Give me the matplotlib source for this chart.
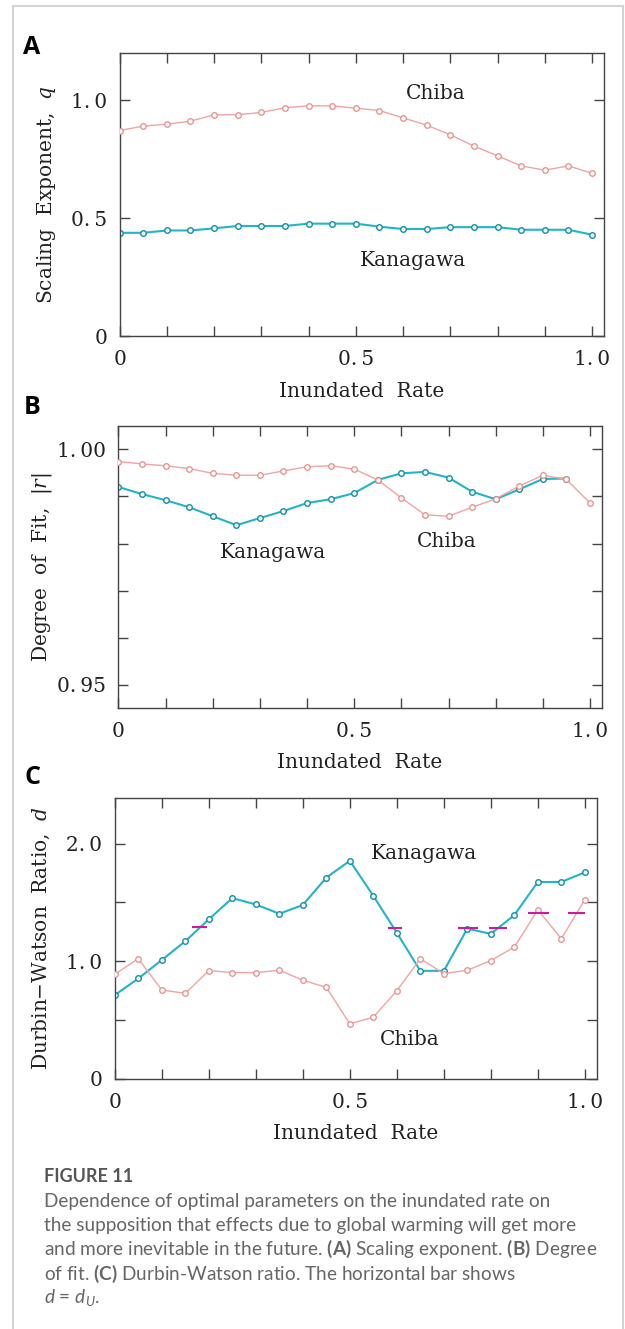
import matplotlib
matplotlib.use('Agg')
import matplotlib.pyplot as plt
from matplotlib.lines import Line2D

plt.rcParams['font.family'] = ['DejaVu Serif']
plt.rcParams['mathtext.fontset'] = 'custom'
plt.rcParams['mathtext.rm'] = 'DejaVu Serif'
plt.rcParams['mathtext.it'] = 'DejaVu Serif:italic'
plt.rcParams['mathtext.bf'] = 'Lato:bold'
plt.rcParams['mathtext.sf'] = 'Lato:italic'

# inundated rate (x for every panel)
rate = [0.0, 0.05, 0.10, 0.15, 0.20, 0.25, 0.30, 0.35, 0.40, 0.45, 0.50,
        0.55, 0.60, 0.65, 0.70, 0.75, 0.80, 0.85, 0.90, 0.95, 1.00]

# (A) scaling exponent q
q_chiba = [0.872, 0.891, 0.899, 0.912, 0.939, 0.939, 0.949, 0.969, 0.977, 0.977, 0.967,
           0.957, 0.926, 0.895, 0.854, 0.806, 0.765, 0.722, 0.704, 0.722, 0.691]
q_kanagawa = [0.438, 0.438, 0.448, 0.448, 0.457, 0.467, 0.467, 0.467, 0.477, 0.477, 0.477,
              0.464, 0.454, 0.454, 0.462, 0.462, 0.462, 0.451, 0.451, 0.451, 0.430]

# (B) degree of fit |r|
r_chiba = [0.9974, 0.9969, 0.9965, 0.9959, 0.9949, 0.9945, 0.9945, 0.9954, 0.9963, 0.9965, 0.9958,
           0.9935, 0.9897, 0.9861, 0.9858, 0.9877, 0.9895, 0.9922, 0.9945, 0.9936, 0.9886]
r_kanagawa = [0.9920, 0.9905, 0.9892, 0.9877, 0.9858, 0.9839, 0.9854, 0.9869, 0.9886, 0.9894,
              0.9907, 0.9935, 0.9949, 0.9952, 0.9940, 0.9910, 0.9894, 0.9915, 0.9937, 0.9938]

# (C) Durbin-Watson ratio d
d_chiba = [0.890, 1.022, 0.756, 0.728, 0.921, 0.904, 0.904, 0.924, 0.840, 0.778, 0.469,
           0.525, 0.750, 1.022, 0.896, 0.924, 1.006, 1.121, 1.438, 1.191, 1.525]
d_kanagawa = [0.713, 0.854, 1.011, 1.171, 1.357, 1.537, 1.483, 1.404, 1.478, 1.711, 1.854,
              1.556, 1.242, 0.919, 0.919, 1.278, 1.233, 1.393, 1.674, 1.674, 1.756]

# horizontal bars d = dU
du_start = [0.165, 0.582, 0.730, 0.797, 0.880, 0.965]
du_end = [0.197, 0.612, 0.773, 0.834, 0.924, 1.000]
du_value = [1.289, 1.281, 1.281, 1.281, 1.413, 1.413]

x_ticks = [0.0, 0.1, 0.2, 0.3, 0.4, 0.5, 0.6, 0.7, 0.8, 0.9, 1.0]
x_labels = ['0', '', '', '', '', '0.\u20095', '', '', '', '', '1.\u20090']

W, H = 625, 1329
fig = plt.figure(figsize=(W / 100, H / 100), dpi=100)

CHIBA = '#f2a3a3'
CHIBA_EDGE = '#e98a8a'
KANA = '#22b4c8'
KANA_EDGE = '#0f8fa8'
AXC = '#444444'
FS = 14.5


def make_axes(left, top, right, bottom):
    return fig.add_axes([left / W, 1 - bottom / H, (right - left) / W, (bottom - top) / H])


def style(ax, yticks, ylabels, ylim, ylabel, label_x):
    ax.set_xlim(0, 1.025)
    ax.set_ylim(*ylim)
    ax.set_xticks(x_ticks)
    ax.set_xticklabels(x_labels)
    ax.set_yticks(yticks)
    ax.set_yticklabels(ylabels)
    ax.tick_params(direction='in', length=7, width=1, color=AXC, top=True, right=True,
                   labelsize=FS, labelcolor='#222222')
    ax.tick_params(axis='x', pad=10)
    ax.tick_params(axis='y', pad=9)
    for s in ax.spines.values():
        s.set_color(AXC)
        s.set_linewidth(1)
    ax.set_xlabel('Inundated  Rate', fontsize=FS, color='#222222')
    ax.xaxis.set_label_coords(0.5, -0.195)
    ax.xaxis.label.set_va('center')
    ax.set_ylabel(ylabel, fontsize=FS, color='#222222')
    ax.yaxis.set_label_coords(label_x, 0.5)
    ax.yaxis.label.set_va('center')


def draw(ax, y_chiba, y_kana):
    ax.plot(rate[:len(y_chiba)], y_chiba, color=CHIBA, lw=1.0, marker='o', ms=4,
            mfc='white', mec=CHIBA_EDGE, mew=0.9, zorder=3)
    ax.plot(rate[:len(y_kana)], y_kana, color=KANA, lw=1.5, marker='o', ms=4,
            mfc='white', mec=KANA_EDGE, mew=1.0, zorder=2)


# (A)
axA = make_axes(119.6, 53.3, 603.8, 336)
draw(axA, q_chiba, q_kanagawa)
style(axA, [0, 0.5, 1.0], ['0', '0.\u20095', '1.\u20090'], (0, 1.2),
      'Scaling  Exponent,  $q$', -0.152)
axA.text(0.669, 1.028, 'Chiba', fontsize=FS, ha='center', va='center', color='#222222')
axA.text(0.621, 0.322, 'Kanagawa', fontsize=FS, ha='center', va='center', color='#222222')

# (B)
axB = make_axes(118.4, 426, 601.8, 707.7)
draw(axB, r_chiba, r_kanagawa)
style(axB, [0.95, 0.96, 0.97, 0.98, 0.99, 1.00], ['0.\u200995', '', '', '', '', '1.\u200900'],
      (0.94518, 1.00494), 'Degree  of  Fit,  $|r|$', -0.158)
axB.text(0.327, 0.97807, 'Kanagawa', fontsize=FS, ha='center', va='center', color='#222222')
axB.text(0.696, 0.98034, 'Chiba', fontsize=FS, ha='center', va='center', color='#222222')

# (C)
axC = make_axes(114.8, 797.7, 596.6, 1079)
draw(axC, d_chiba, d_kanagawa)
axC.hlines(du_value, du_start, du_end, colors='#d01a9c', lw=1.5, zorder=4)
style(axC, [0, 0.5, 1.0, 1.5, 2.0], ['0', '', '1.\u20090', '', '2.\u20090'], (0, 2.39),
      'Durbin\u2212Watson  Ratio,  $d$', -0.152)
axC.text(0.657, 1.916, 'Kanagawa', fontsize=FS, ha='center', va='center', color='#222222')
axC.text(0.627, 0.332, 'Chiba', fontsize=FS, ha='center', va='center', color='#222222')

# panel letters
for letter, yy in [('A', 48), ('B', 408), ('C', 778)]:
    fig.text(32 / W, 1 - yy / H, letter, fontsize=18, fontweight='bold',
             family='Open Sans', ha='center', va='center', color='black')

# caption
cap_lines = [
    'Dependence of optimal parameters on the inundated rate on',
    'the supposition that effects due to global warming will get more',
    'and more inevitable in the future. $\\mathbf{(A)}$ Scaling exponent. $\\mathbf{(B)}$ Degree',
    'of fit. $\\mathbf{(C)}$ Durbin-Watson ratio. The horizontal bar shows',
    '$\\mathsf{d}$ = $\\mathsf{d}_{\\mathsf{U}}$.',
]
fig.text(44.5 / W, 1 - 1177 / H, 'FIGURE 11', family='Lato', fontweight='bold',
         fontsize=13, color='#555555', ha='left', va='center')
for i, line in enumerate(cap_lines):
    fig.text(44.5 / W, 1 - (1201 + 24.2 * i) / H, line, family='Lato', fontsize=13.7,
             color='#666666', ha='left', va='center')

# light frame around the figure
fc = '#d4d4d4'
fig.add_artist(Line2D([12.7 / W, 12.7 / W], [0, 1 - 5.7 / H], color=fc, lw=1.5))
fig.add_artist(Line2D([12.7 / W, 623 / W], [1 - 5.7 / H, 1 - 5.7 / H], color=fc, lw=1.5))
fig.add_artist(Line2D([623 / W, 623 / W], [0, 1 - 5.7 / H], color=fc, lw=1.5))

fig.savefig('out.png', dpi=100)
